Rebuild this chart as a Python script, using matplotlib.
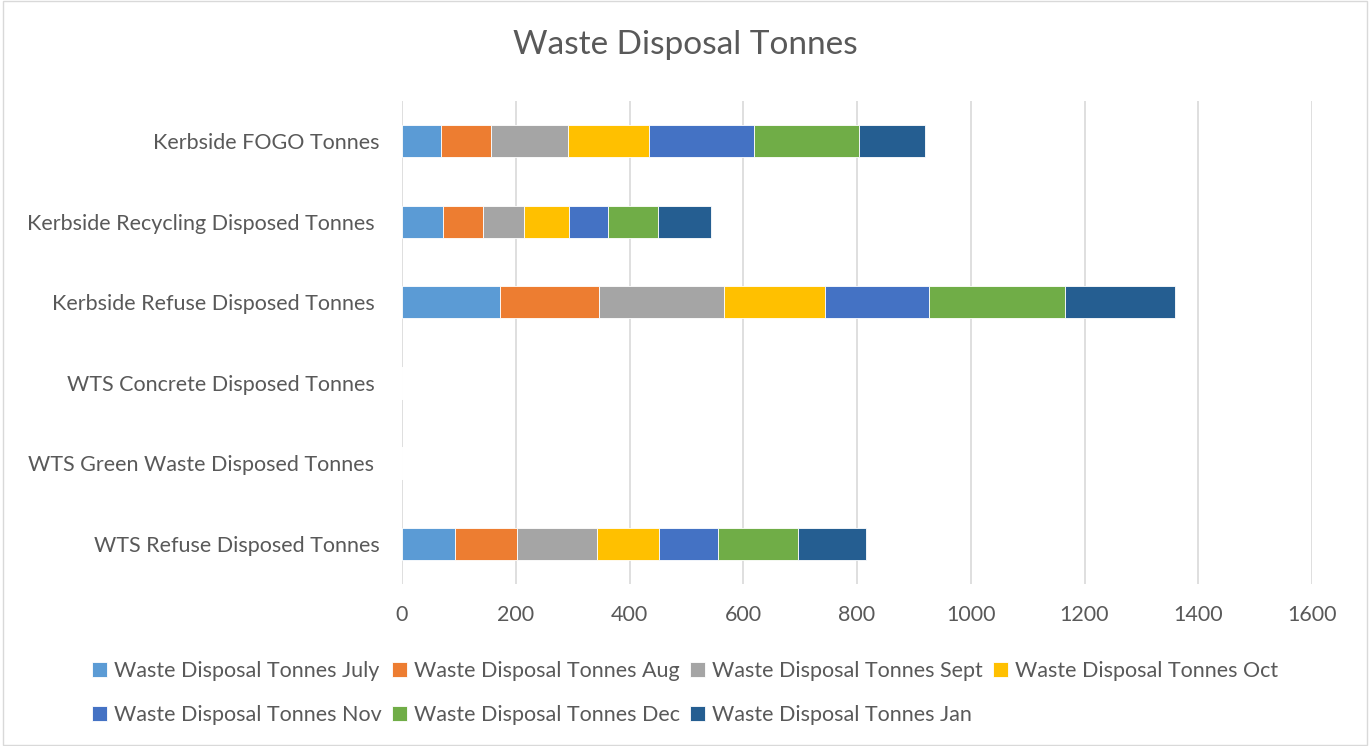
import numpy as np
import matplotlib.pyplot as plt
from matplotlib.patches import Rectangle

plt.rcParams['font.family'] = ['Lato', 'DejaVu Sans']

kategorie = ["Kerbside FOGO Tonnes",
             "Kerbside Recycling Disposed Tonnes ",
             "Kerbside Refuse Disposed Tonnes ",
             "WTS Concrete Disposed Tonnes ",
             "WTS Green Waste Disposed Tonnes ",
             "WTS Refuse Disposed Tonnes"]

miesiace = ["July", "Aug", "Sept", "Oct", "Nov", "Dec", "Jan"]

# wartosci dla kazdej kategorii (kolejnosc jak w kategorie)
july = [68, 72, 173, 0, 0, 94]
aug = [89, 70, 173, 0, 0, 109]
sept = [134, 73, 220, 0, 0, 139]
octo = [144, 79, 178, 0, 0, 110]
nov = [184, 68, 182, 0, 0, 104]
dec = [184, 88, 240, 0, 0, 140]
jan = [116, 93, 193, 0, 0, 120]

kolory = ["#5b9bd5", "#ed7d31", "#a5a5a5", "#ffc000", "#4472c4", "#70ad47", "#255e91"]

serie = [july, aug, sept, octo, nov, dec, jan]

fig = plt.figure(figsize=(13.7, 7.46), dpi=100)
ax = fig.add_axes([402 / 1370, 1 - 584 / 746, 910 / 1370, 483 / 746])

y = np.arange(len(kategorie))
lewo = np.zeros(len(kategorie))
paski = []
for wart, kol, m in zip(serie, kolory, miesiace):
    b = ax.barh(y, wart, left=lewo, height=0.4, color=kol,
                edgecolor="white", linewidth=0.6,
                label="Waste Disposal Tonnes " + m, zorder=3)
    paski.append(b)
    lewo = lewo + np.array(wart)

ax.set_ylim(len(kategorie) - 0.5, -0.5)
ax.set_xlim(0, 1600)
ax.set_xticks(range(0, 1601, 200))
ax.set_yticks(y)
ax.set_yticklabels(kategorie)
ax.grid(axis="x", color="#d9d9d9", linewidth=1.2, zorder=0)
for s in ax.spines.values():
    s.set_visible(False)
ax.tick_params(length=0, labelsize=15.5, colors="#595959")
ax.tick_params(axis="y", pad=16)
ax.tick_params(axis="x", pad=15)

fig.text(0.5, 1 - 45 / 746, "Waste Disposal Tonnes", ha="center", va="center",
         fontsize=24, color="#595959")

kolejnosc = [0, 4, 1, 5, 2, 6, 3]
fig.legend([paski[i] for i in kolejnosc],
           ["Waste Disposal Tonnes " + miesiace[i] for i in kolejnosc],
           ncol=4, loc="center", bbox_to_anchor=(0.5, 1 - 693 / 746),
           frameon=False, fontsize=15.5, labelcolor="#595959",
           handlelength=0.7, handleheight=0.7, handletextpad=0.3,
           columnspacing=0.5, labelspacing=1.15)

fig.patches.append(Rectangle((0.002, 0.002), 0.996, 0.996, transform=fig.transFigure,
                             fill=False, edgecolor="#d9d9d9", linewidth=1))

fig.savefig("out.png", dpi=100)
